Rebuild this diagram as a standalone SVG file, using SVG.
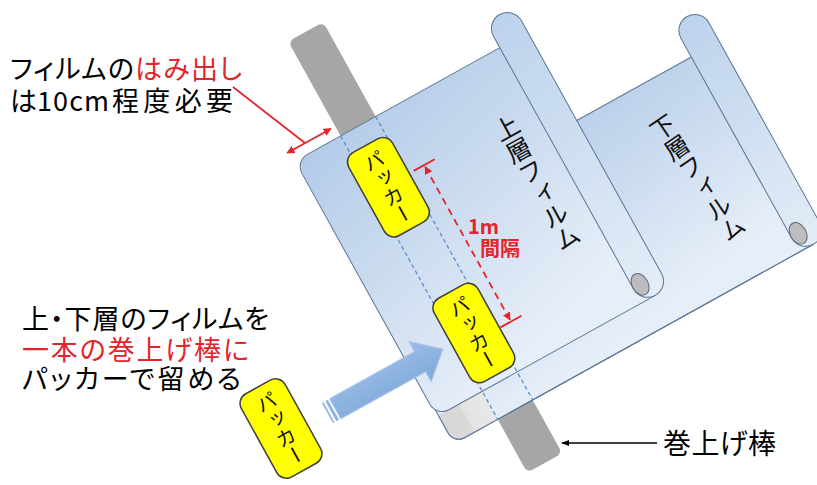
<svg xmlns="http://www.w3.org/2000/svg" width="817" height="485" viewBox="0 0 817 485">
  <defs>
    <linearGradient id="filmGrad" x1="0" y1="0" x2="0.25" y2="1">
      <stop offset="0" stop-color="#b3cbe8"/>
      <stop offset="1" stop-color="#e6eef8"/>
    </linearGradient>
    <linearGradient id="rollGrad" x1="0" y1="0" x2="0" y2="1">
      <stop offset="0" stop-color="#bcd2ec"/>
      <stop offset="1" stop-color="#e4edf7"/>
    </linearGradient>
    <linearGradient id="greyGrad" x1="0" y1="0" x2="1" y2="0">
      <stop offset="0" stop-color="#d6d6d6"/>
      <stop offset="0.45" stop-color="#d9d9d9"/>
      <stop offset="0.5" stop-color="#e4e4e4"/>
      <stop offset="1" stop-color="#e8e8e8"/>
    </linearGradient>
    <linearGradient id="arrowGrad" x1="0" y1="0" x2="0" y2="1">
      <stop offset="0" stop-color="#9bbde6"/>
      <stop offset="1" stop-color="#7ea8da"/>
    </linearGradient>
    <marker id="redHead" viewBox="0 0 10 10" refX="9" refY="5" markerWidth="4.5" markerHeight="4.5" orient="auto-start-reverse">
      <path d="M0,0 L10,5 L0,10 z" fill="#e3242b"/>
    </marker>
    <marker id="blackHead" viewBox="0 0 10 10" refX="9" refY="5" markerWidth="6" markerHeight="6" orient="auto">
      <path d="M0,1 L10,5 L0,9 z" fill="#000"/>
    </marker>
  </defs>
  <style>
    .film { stroke: #5b7694; stroke-width: 1; }
    .outline { fill: none; stroke: #5b7694; stroke-width: 1; }
    .hole { fill: #bdbdbd; stroke: #5b6b7a; stroke-width: 1; }
    .bar { fill: #a6a6a6; }
    .bar-edge { stroke: #5b8fd0; stroke-width: 1.3; stroke-dasharray: 4 3; fill: none; }
    .packer rect { fill: #ffff00; stroke: #3f3f3f; stroke-width: 1.5; }
    .jp { font-family: "Noto Sans CJK JP", "Noto Sans", sans-serif; font-feature-settings: "palt"; }
    .vt { font-family: "Noto Sans CJK JP", "Noto Sans", sans-serif; writing-mode: vertical-rl; fill: #111; }
    .red { fill: #e3242b; }
    .dim { stroke: #e3242b; stroke-width: 1.8; fill: none; }
  </style>

  <!-- everything drawn along the winding bar uses a frame turned by 29 degrees -->
  <g transform="rotate(-29)">
    <g id="bar">
      <rect class="bar" x="232" y="176" width="40" height="493" rx="6"/>
    </g>

    <g id="lower-film">
      <path class="film" fill="url(#filmGrad)" d="M194,385 H593 V608 H194 A12,12 0 0 1 182,596 V397 A12,12 0 0 1 194,385 Z"/>
      <path fill="url(#greyGrad)" d="M182,576 H232 V608 H194 A12,12 0 0 1 182,596 Z"/>
      <path class="outline" d="M593,608 H194 A12,12 0 0 1 182,596 V576"/>
      <path class="film" fill="url(#rollGrad)" d="M577,592 V363.5 A16,16 0 0 1 609,363.5 V592 A16,16 0 0 1 593,608 A16,16 0 0 1 577,592 Z"/>
      <ellipse class="hole" cx="585" cy="591" rx="8" ry="11.5"/>
      <text class="vt" x="524" y="420" font-size="24.5" transform="rotate(-5.5 524 493)">下層フィルム</text>
    </g>

    <g id="upper-film">
      <path class="film" fill="url(#filmGrad)" d="M194,284 H430 V576 H194 A14,14 0 0 1 180,562 V298 A14,14 0 0 1 194,284 Z"/>
      <path class="film" fill="url(#rollGrad)" d="M414,560 V271 A16,16 0 0 1 446,271 V560 A16,16 0 0 1 430,576 A16,16 0 0 1 414,560 Z"/>
      <ellipse class="hole" cx="422" cy="559" rx="8" ry="11.5"/>
      <text class="vt" x="381" y="345" font-size="25">上層フィルム</text>
    </g>

    <g id="bar-under-film">
      <line class="bar-edge" x1="232" y1="284" x2="232" y2="608"/>
      <line class="bar-edge" x1="272" y1="284" x2="272" y2="608"/>
    </g>

    <g id="insert-arrow">
      <rect x="86" y="508.5" width="2" height="23" fill="#9bbde6"/>
      <rect x="90" y="508.5" width="3" height="23" fill="#90b5e2"/>
      <path d="M95,508.5 H192 V497 L218,520 L192,543 V531.5 H95 Z" fill="url(#arrowGrad)" stroke="#a9c4e6" stroke-width="1"/>
    </g>

    <g id="packer-1" class="packer" transform="translate(249,352)">
      <rect x="-25" y="-47.5" width="50" height="95" rx="11"/>
      <text class="vt" x="0" y="-40" font-size="20">パッカー</text>
    </g>
    <g id="packer-2" class="packer" transform="translate(253,521)">
      <rect x="-25" y="-47.5" width="50" height="95" rx="11"/>
      <text class="vt" x="0" y="-40" font-size="20">パッカー</text>
    </g>
    <g id="packer-3" class="packer" transform="translate(38,511)">
      <rect x="-25" y="-47.5" width="50" height="95" rx="11"/>
      <text class="vt" x="0" y="-40" font-size="20">パッカー</text>
    </g>

    <g id="connectors">
      <!-- 1 m spacing between packers -->
      <line class="dim" x1="279" y1="350" x2="303" y2="350"/>
      <line class="dim" x1="279" y1="529" x2="303" y2="529"/>
      <line class="dim" x1="291" y1="352" x2="291" y2="527" stroke-dasharray="7 5" marker-start="url(#redHead)" marker-end="url(#redHead)"/>
      <!-- film overhang beyond the bar -->
      <line class="dim" x1="177" y1="273" x2="227" y2="273" marker-start="url(#redHead)" marker-end="url(#redHead)"/>
    </g>
  </g>

  <g id="overhang-note">
    <line class="dim" x1="233" y1="87" x2="305" y2="143"/>
    <text class="jp" x="10" y="79" font-size="27" textLength="232" lengthAdjust="spacing">フィルムの<tspan class="red">はみ出し</tspan></text>
    <text class="jp" x="10" y="111" font-size="27">は</text>
    <text class="jp" x="37" y="111" font-size="27" textLength="72" lengthAdjust="spacing">10cm</text>
    <text class="jp" x="112" y="111" font-size="27" textLength="121" lengthAdjust="spacing">程度必要</text>
  </g>

  <g id="spacing-label">
    <text class="jp red" x="468" y="234" font-size="20" font-weight="bold">1m</text>
    <text class="jp red" x="480" y="256" font-size="20" font-weight="bold">間隔</text>
  </g>

  <g id="method-note">
    <text class="jp" x="22" y="329" font-size="27" textLength="247" lengthAdjust="spacing">上・下層のフィルムを</text>
    <text class="jp red" x="22" y="360" font-size="27" textLength="227" lengthAdjust="spacing">一本の巻上げ棒に</text>
    <text class="jp" x="22" y="389" font-size="27" textLength="219" lengthAdjust="spacing">パッカーで留める</text>
  </g>

  <g id="bar-label">
    <line x1="657" y1="443" x2="562" y2="443" stroke="#000" stroke-width="1.3" marker-end="url(#blackHead)"/>
    <text class="jp" x="663" y="454" font-size="28" textLength="113" lengthAdjust="spacing">巻上げ棒</text>
  </g>
</svg>
